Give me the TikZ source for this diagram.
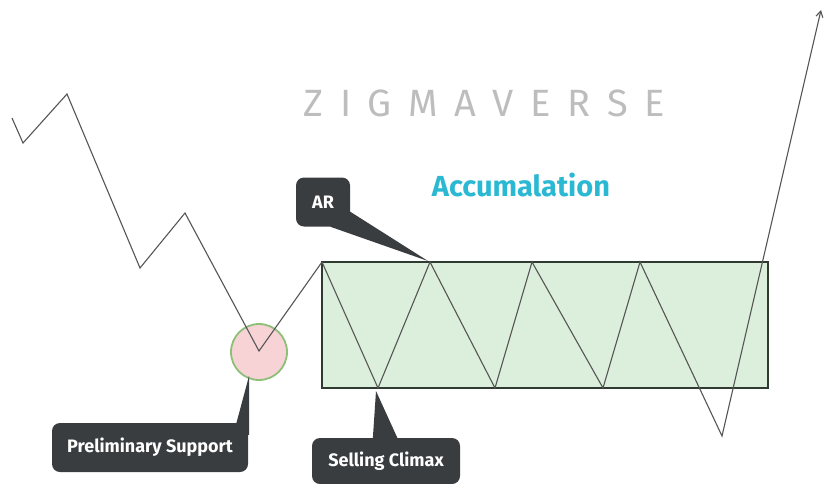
\documentclass[tikz,border=0pt]{standalone}
\usepackage{fontspec}
\setmainfont{Fira Sans}
\newfontfamily\logofont[LetterSpace=44]{Fira Sans}
\usetikzlibrary{arrows.meta}
\definecolor{rangefill}{HTML}{DCEEDC}
\definecolor{rangeline}{HTML}{2F3A30}
\definecolor{calloutgray}{HTML}{3A3D40}
\definecolor{accumblue}{HTML}{2BB8D2}
\definecolor{pricegray}{HTML}{555555}
\definecolor{pinkfill}{HTML}{F8D3D6}
\definecolor{ringgreen}{HTML}{8CBF78}
\definecolor{logogray}{HTML}{BDBDBD}

\begin{document}
\begin{tikzpicture}[x=1pt,y=-1pt,
    callout/.style={fill=calloutgray,rounded corners=8pt,text=white,inner sep=0pt,
      font=\bfseries\fontsize{18}{20}\selectfont},
    price/.style={draw=pricegray,line width=1.1pt}]
  \useasboundingbox (0,0) rectangle (826,483);

  % Range di accumulo
  \fill[rangefill] (322,262) rectangle (768,388);
  \draw[rangeline,line width=2pt] (322,262) rectangle (768,388);

  % Cerchio
  \draw[ringgreen,fill=pinkfill,line width=1.8pt] (259,352) circle (28pt);

  % Prezzo
  \draw[price,-{Straight Barb[length=6pt,width=7pt]}] (12,118) -- (23,143) -- (67,94)
    -- (140,268) -- (185,213) -- (259,351) -- (322,262) -- (378,388) -- (430,262)
    -- (495,388) -- (532,262) -- (603,388) -- (640,262) -- (722,436) -- (821,10);

  % Titoli
  \node[anchor=west,text=logogray,font=\logofont\fontsize{38}{40}\selectfont] (logo) at (300,103) {ZIGMAVERSE};
  \node[text=accumblue,font=\bfseries\fontsize{29}{32}\selectfont] (accum) at (521,185) {Accumalation};

  % Etichette
  \node[callout,minimum width=54pt,minimum height=49pt] (ar) at (323,202) {AR};
  \node[callout,minimum width=196pt,minimum height=49pt] (ps) at (150,447.5) {Preliminary Support};
  \node[callout,minimum width=148pt,minimum height=46pt] (sc) at (386,461) {Selling Climax};

  \coordinate (arTip) at (428,261);
  \coordinate (psTip) at (249,376);
  \coordinate (scTip) at (376,391);

  \fill[calloutgray] ([xshift=-20pt]ar.south east) -- (arTip) -- ([yshift=15pt]ar.south east) -- cycle;
  \fill[calloutgray] ([xshift=-12pt,yshift=-1pt]ps.north east) -- (psTip) -- ([xshift=1pt]ps.north east)
    -- ([xshift=1pt,yshift=-12pt]ps.north east) -- ([yshift=-12pt]ps.north east) -- cycle;
  \fill[calloutgray] ([xshift=61pt,yshift=-1pt]sc.north west) -- (scTip) -- ([xshift=86pt,yshift=-1pt]sc.north west) -- cycle;
\end{tikzpicture}
\end{document}
